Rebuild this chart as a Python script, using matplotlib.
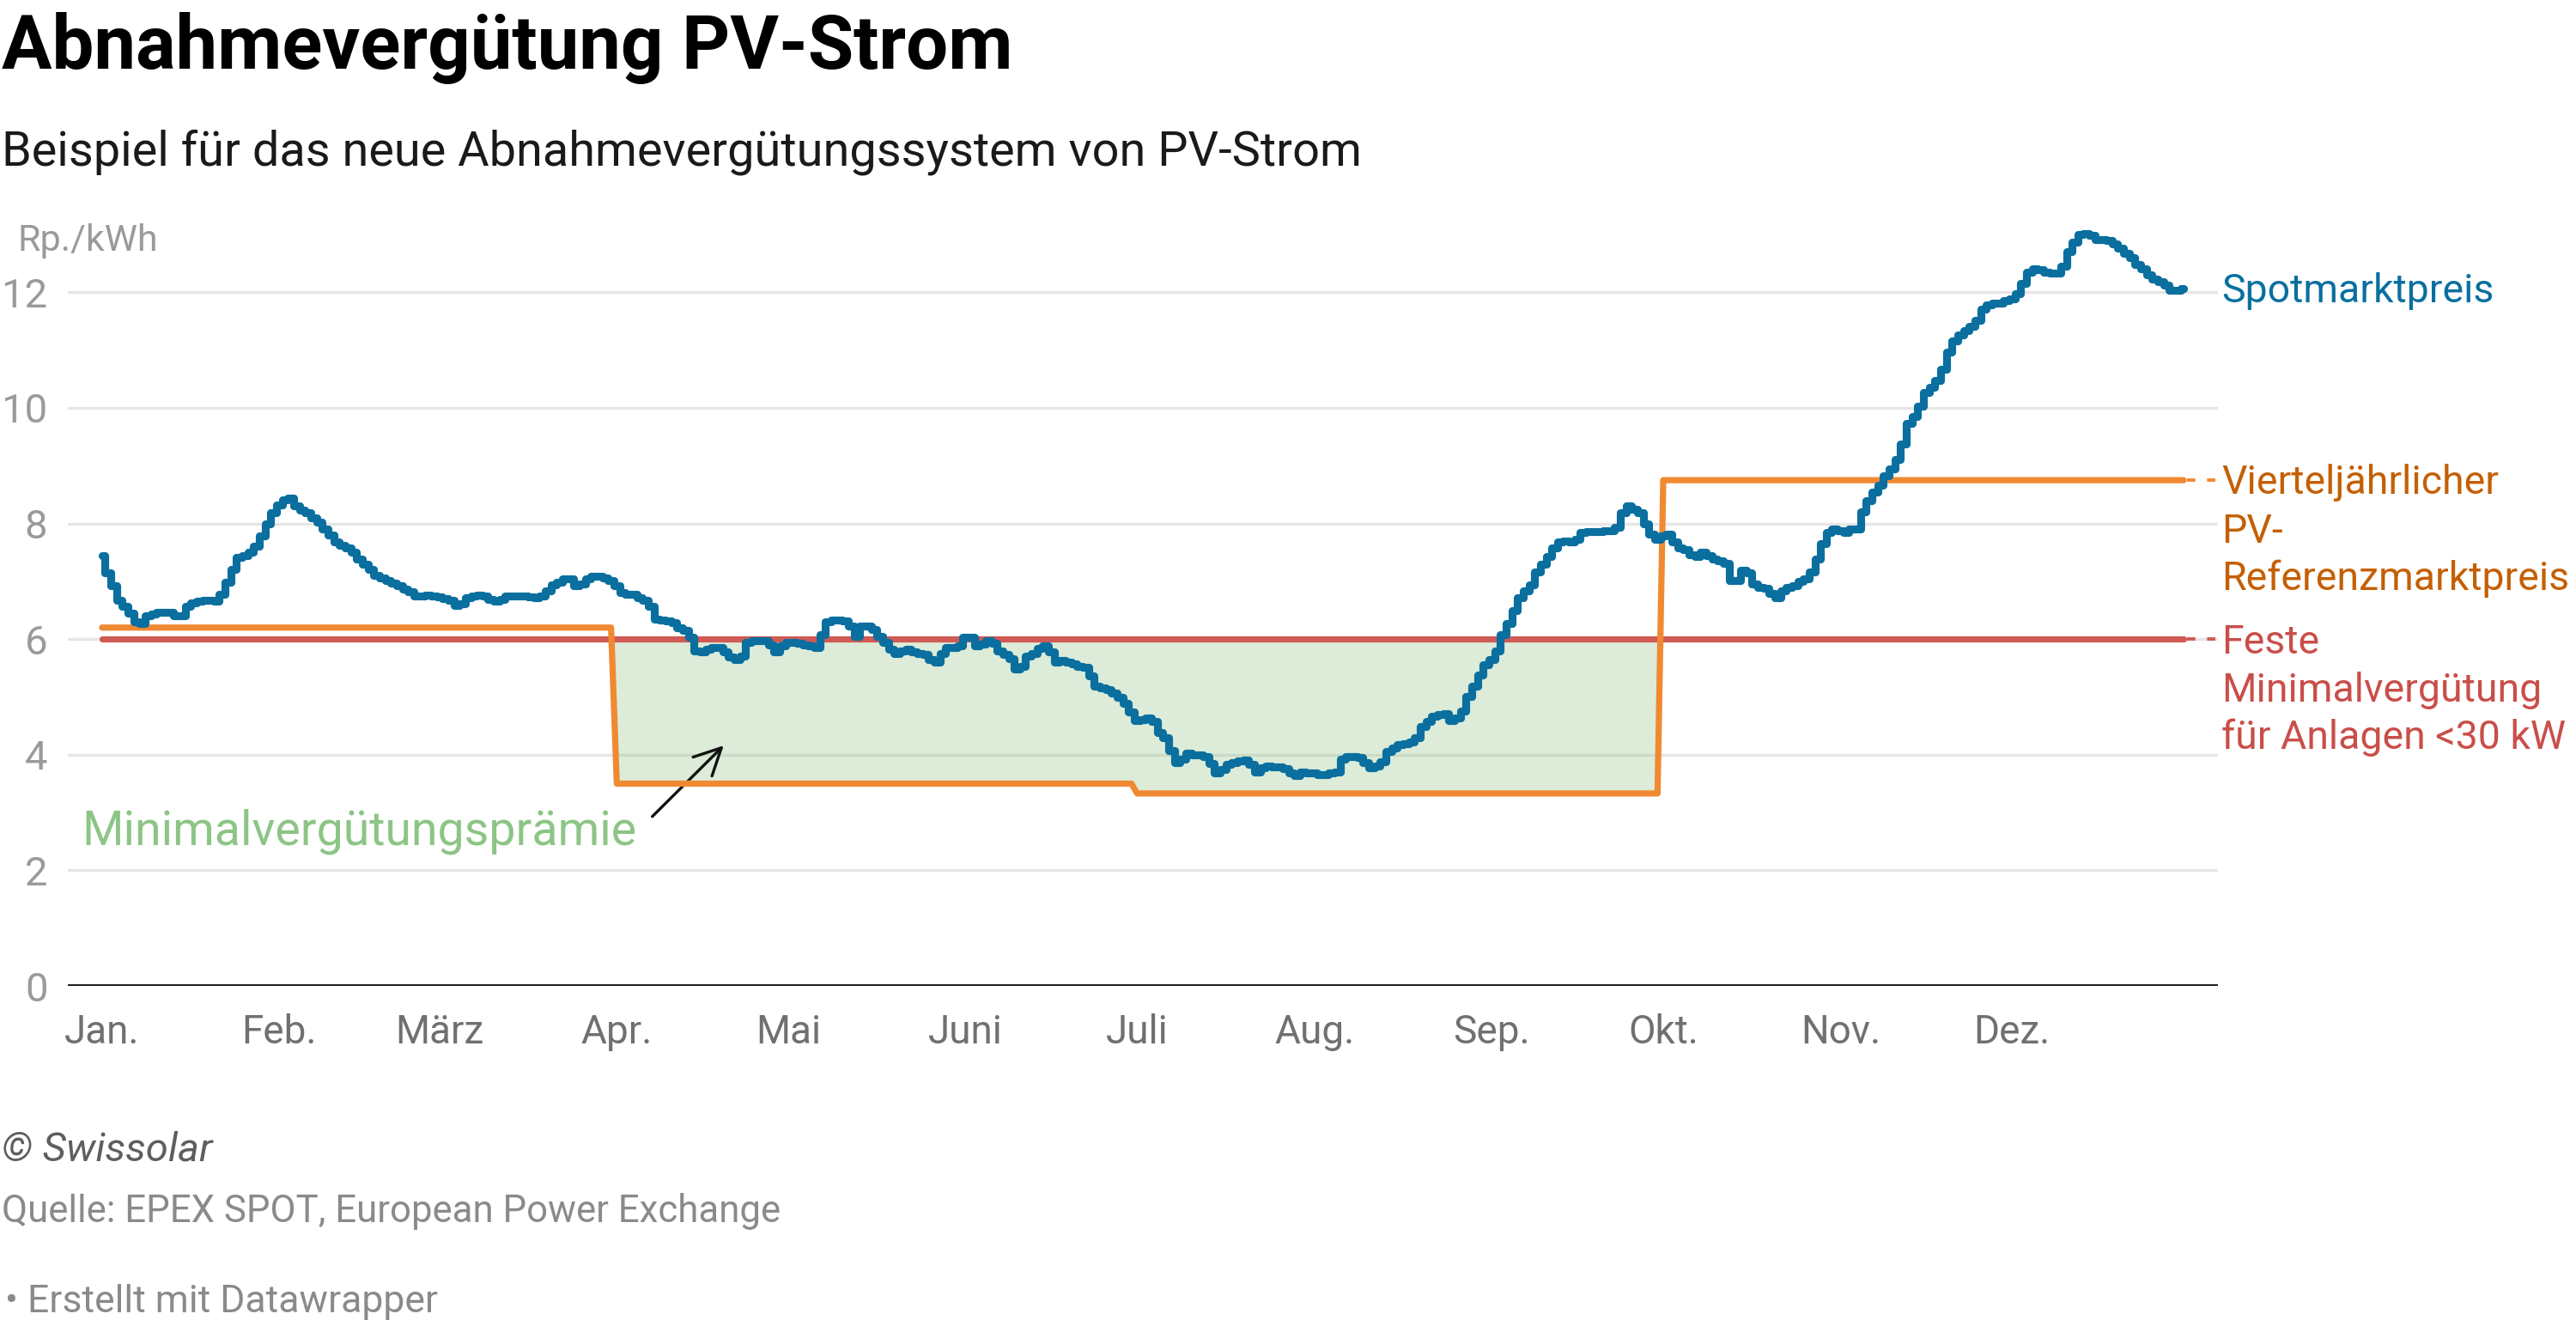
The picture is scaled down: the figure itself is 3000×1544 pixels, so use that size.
import numpy as np
import pandas as pd
import matplotlib
matplotlib.use("Agg")
import matplotlib.pyplot as plt
import matplotlib.transforms as mtransforms

plt.rcParams['font.family'] = ['Roboto', 'DejaVu Sans']

# daily spot market price (Rp./kWh)
spot_jan = [7.45, 7.14, 6.92, 6.67, 6.57, 6.45, 6.30, 6.27, 6.40, 6.43,
            6.46, 6.46, 6.46, 6.40, 6.40, 6.57, 6.63, 6.65, 6.67, 6.67,
            6.66, 6.77, 6.99, 7.21, 7.41, 7.45, 7.51, 7.61, 7.78, 8.00, 8.18]
spot_feb = [8.32, 8.41, 8.44, 8.30, 8.23, 8.18, 8.10, 8.03, 7.91, 7.80,
            7.68, 7.62, 7.58, 7.51, 7.39, 7.29, 7.20, 7.10, 7.06, 7.02,
            6.97, 6.92, 6.87, 6.82, 6.74, 6.75, 6.76, 6.75]
spot_mar = [6.73, 6.70, 6.67, 6.58, 6.61, 6.71, 6.74, 6.76, 6.75, 6.68,
            6.66, 6.68, 6.74, 6.74, 6.74, 6.74, 6.73, 6.72, 6.74, 6.84,
            6.94, 6.99, 7.04, 7.04, 6.92, 6.96, 7.04, 7.09, 7.09, 7.06, 7.01]
spot_apr = [6.92, 6.81, 6.77, 6.77, 6.72, 6.67, 6.57, 6.35, 6.33, 6.31,
            6.28, 6.20, 6.15, 6.03, 5.80, 5.78, 5.83, 5.85, 5.85, 5.78,
            5.69, 5.64, 5.70, 5.94, 5.97, 5.98, 5.97, 5.90, 5.78, 5.89]
spot_may = [5.94, 5.94, 5.93, 5.90, 5.88, 5.85, 6.07, 6.30, 6.33, 6.33,
            6.31, 6.23, 6.05, 6.22, 6.23, 6.17, 6.05, 5.95, 5.83, 5.75,
            5.80, 5.83, 5.78, 5.75, 5.73, 5.65, 5.60, 5.75, 5.85, 5.85, 5.88]
spot_jun = [6.03, 6.03, 5.88, 5.91, 5.97, 5.93, 5.80, 5.73, 5.66, 5.48,
            5.53, 5.70, 5.75, 5.84, 5.88, 5.78, 5.60, 5.63, 5.60, 5.57,
            5.53, 5.51, 5.36, 5.18, 5.16, 5.13, 5.06, 4.99, 4.89, 4.74]
spot_jul = [4.59, 4.60, 4.64, 4.57, 4.39, 4.29, 4.07, 3.87, 3.92, 4.03,
            4.00, 4.00, 3.97, 3.85, 3.68, 3.75, 3.84, 3.86, 3.90, 3.91,
            3.83, 3.70, 3.78, 3.80, 3.79, 3.79, 3.76, 3.68, 3.64, 3.70, 3.69]
spot_aug = [3.69, 3.66, 3.65, 3.69, 3.70, 3.92, 3.97, 3.96, 3.95, 3.87,
            3.78, 3.81, 3.88, 4.06, 4.12, 4.17, 4.19, 4.22, 4.29, 4.49,
            4.57, 4.66, 4.69, 4.71, 4.59, 4.64, 4.76, 5.01, 5.18, 5.38, 5.55]
spot_sep = [5.65, 5.80, 6.07, 6.27, 6.49, 6.72, 6.84, 6.94, 7.16, 7.29,
            7.43, 7.58, 7.68, 7.70, 7.68, 7.73, 7.85, 7.86, 7.86, 7.86,
            7.87, 7.87, 7.93, 8.18, 8.30, 8.25, 8.18, 8.00, 7.81, 7.73]
spot_oct = [7.78, 7.81, 7.68, 7.58, 7.55, 7.46, 7.43, 7.50, 7.45, 7.38,
            7.36, 7.31, 7.01, 7.01, 7.19, 7.14, 6.96, 6.89, 6.88, 6.79,
            6.72, 6.84, 6.89, 6.92, 7.00, 7.05, 7.16, 7.38, 7.65, 7.85, 7.90]
spot_nov = [7.88, 7.85, 7.90, 7.91, 8.20, 8.40, 8.54, 8.67, 8.82, 8.94,
            9.11, 9.38, 9.73, 9.85, 10.03, 10.27, 10.35, 10.47, 10.67, 10.97,
            11.16, 11.26, 11.34, 11.41, 11.51, 11.71, 11.78, 11.81, 11.82, 11.85]
spot_dec = [11.88, 11.98, 12.15, 12.35, 12.41, 12.39, 12.35, 12.33, 12.34, 12.45,
            12.70, 12.87, 13.00, 13.02, 12.98, 12.91, 12.91, 12.90, 12.84, 12.77,
            12.67, 12.60, 12.48, 12.40, 12.30, 12.23, 12.18, 12.13, 12.04, 12.03, 12.07]

# quarterly PV reference market price and fixed minimum remuneration
ref_quarter = [6.2, 3.5, 3.33, 8.75]
min_fix = 6.0

month_labels = ['Jan.', 'Feb.', 'März', 'Apr.', 'Mai', 'Juni',
                'Juli', 'Aug.', 'Sep.', 'Okt.', 'Nov.', 'Dez.']
y_ticks = [0, 2, 4, 6, 8, 10, 12]

spot = np.array(spot_jan + spot_feb + spot_mar + spot_apr + spot_may + spot_jun +
                spot_jul + spot_aug + spot_sep + spot_oct + spot_nov + spot_dec)
dates = pd.date_range('2023-01-01', '2023-12-31', freq='D')
ref = np.array([ref_quarter[(d.month - 1) // 3] for d in dates])
fix = np.full(len(dates), min_fix)

c_blue = '#0a6f9f'
c_orange = '#f08a32'
c_orange_txt = '#c45f05'
c_red = '#d05a55'
c_red_txt = '#c94e49'
c_green = '#8cc585'

W, H = 3000, 1544
fig = plt.figure(figsize=(15, 7.72), dpi=200)
# plot area in pixels: gridlines from x=79 to 2583, zero line at y=1148
ymax = 13.2
ax = fig.add_axes([79 / W, (H - 1148) / H, 2504 / W, ymax * 67.3 / H])

day = pd.Timedelta(days=1)
ax.set_xlim(dates[0] - 6 * day, dates[-1] + 6 * day)
ax.set_ylim(0, ymax)

for v in y_ticks[1:]:
    ax.axhline(v, color='#e6e6e6', lw=1.2, zorder=0)
ax.axhline(0, color='#1a1a1a', lw=1.4, zorder=1)

ax.fill_between(dates, ref, fix, where=ref < fix, interpolate=True,
                color='#77b767', alpha=0.25, lw=0, zorder=2)
ax.plot(dates, fix, color=c_red, lw=2.6, solid_capstyle='round', zorder=3)
ax.plot(dates, ref, color=c_orange, lw=2.6, solid_capstyle='round',
        solid_joinstyle='round', zorder=4)
ax.plot(dates, spot, color=c_blue, lw=3.3, drawstyle='steps-mid',
        solid_capstyle='round', solid_joinstyle='round', zorder=5)

# short dashed connectors to the right-hand labels
ends = [dates[-1] + 0.6 * day, dates[-1] + 5.6 * day]
ax.plot(ends, [ref[-1]] * 2, color=c_orange, lw=1.4, ls=(0, (2.5, 3.5)), zorder=4)
ax.plot(ends, [fix[-1]] * 2, color=c_red, lw=1.4, ls=(0, (2.5, 3.5)), zorder=4)

for s in ax.spines.values():
    s.set_visible(False)

month_starts = pd.date_range('2023-01-01', periods=12, freq='MS')
ax.set_xticks(month_starts)
ax.set_xticklabels(month_labels)
ax.set_yticks(y_ticks)
ax.set_yticklabels([str(v) for v in y_ticks])
ax.tick_params(axis='x', length=0, pad=11.5, labelsize=16.5, labelcolor='#707070')
ax.tick_params(axis='y', length=0, pad=8.5, labelsize=17, labelcolor='#9a9a9a')

# right-hand series labels
trans = mtransforms.blended_transform_factory(ax.transAxes, ax.transData)
lx = (2587 - 79) / 2504
lab_size = 16.7
ax.annotate('Spotmarktpreis', xy=(lx, spot[-1]), xycoords=trans,
            xytext=(0, -1.2), textcoords='offset points', color=c_blue,
            fontsize=lab_size, va='center', ha='left')
ax.annotate('Vierteljährlicher', xy=(lx, ref[-1]), xycoords=trans,
            xytext=(0, -1.2), textcoords='offset points', color=c_orange_txt,
            fontsize=lab_size, va='center', ha='left')
ax.annotate('PV-\nReferenzmarktpreis', xy=(lx, ref[-1]), xycoords=trans,
            xytext=(0, -13.5), textcoords='offset points', color=c_orange_txt,
            fontsize=lab_size, va='top', ha='left', linespacing=1.3)
ax.annotate('Feste', xy=(lx, fix[-1]), xycoords=trans,
            xytext=(0, -1.2), textcoords='offset points', color=c_red_txt,
            fontsize=lab_size, va='center', ha='left')
ax.annotate('Minimalvergütung\nfür Anlagen <30 kW', xy=(lx, fix[-1]), xycoords=trans,
            xytext=(0, -13.5), textcoords='offset points', color=c_red_txt,
            fontsize=lab_size, va='top', ha='left', linespacing=1.3)

# premium annotation with arrow
ax.text(dates[0] - 3.6 * day, 2.45, 'Minimalvergütungsprämie', color=c_green,
        fontsize=20, va='baseline', ha='left')
ax.annotate('', xy=(dates[0] + 108.7 * day, 4.16), xytext=(dates[0] + 96.2 * day, 2.93),
            arrowprops=dict(arrowstyle='->', color='#111111', lw=1.2,
                            mutation_scale=28, shrinkA=0, shrinkB=0))

# titles and footer
fig.text(2 / W, 1 - 80 / H, 'Abnahmevergütung PV-Strom', fontsize=31.3,
         fontweight='bold', color='#000000', va='baseline')
fig.text(2 / W, 1 - 192 / H, 'Beispiel für das neue Abnahmevergütungssystem von PV-Strom',
         fontsize=20.1, color='#1a1a1a', va='baseline')
fig.text(20 / W, 1 - 292 / H, 'Rp./kWh', fontsize=15.5, color='#9a9a9a', va='baseline')
fig.text(2 / W, 1 - 1352 / H, '© Swissolar', fontsize=17, style='italic',
         color='#5e5e5e', va='baseline')
fig.text(2 / W, 1 - 1423 / H, 'Quelle: EPEX SPOT, European Power Exchange',
         fontsize=15.75, color='#8a8a8a', va='baseline')
fig.text(6 / W, 1 - 1528 / H, '• Erstellt mit Datawrapper', fontsize=16,
         color='#8a8a8a', va='baseline')

fig.savefig('out.png', dpi=200, facecolor='white')
